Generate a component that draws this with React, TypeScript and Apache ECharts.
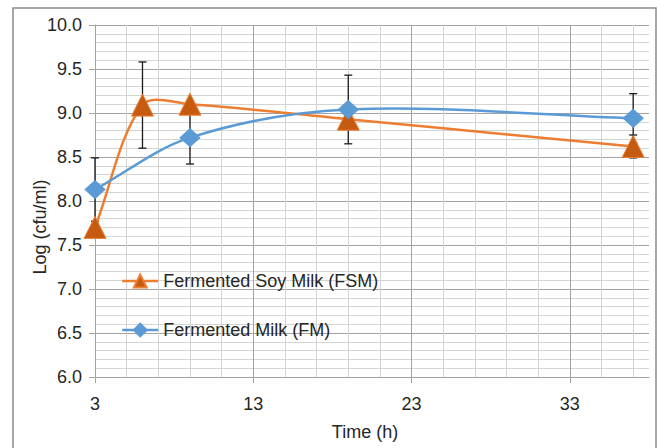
import React, { useEffect, useRef } from "react";
import * as echarts from "echarts";

const fsmTimes = [3, 6, 9, 19, 37];
const fsmValues = [7.7, 9.09, 9.1, 8.93, 8.62];
const fsmErrors = [0, 0.49, 0, 0.1, 0.13];

const fmTimes = [3, 9, 19, 37];
const fmValues = [8.13, 8.72, 9.04, 8.94];
const fmErrors = [0.36, 0.3, 0.39, 0.28];

const xTickLabels = [3, 13, 23, 33];
const FONT = "Liberation Sans, Arial, sans-serif";
const FSM_NAME = "Fermented Soy Milk (FSM)";
const FM_NAME = "Fermented Milk (FM)";
const FSM_LINE = "#ed7d31";
const FM_LINE = "#5b9bd5";

export default function App() {
  const ref = useRef<HTMLDivElement>(null);
  useEffect(() => {
    document.body.style.margin = "0";
    const chart = echarts.init(ref.current!, null, { renderer: "svg" });
    const major = "#a3a3a3";
    const minor = "#d4d4d4";
    const minorColors: string[] = [];
    for (let t = 3; t <= 37; t += 2) minorColors.push((t - 3) % 10 === 0 ? "rgba(0,0,0,0)" : minor);
    minorColors.push("rgba(0,0,0,0)");

    const errData = (times: number[], vals: number[], errs: number[]) =>
      times
        .map((t, i) => [t, vals[i] - errs[i], vals[i] + errs[i]])
        .filter((_, i) => errs[i] > 0);

    const renderErr = (params: any, api: any) => {
      const x = api.value(0);
      const lo = api.value(1);
      const hi = api.value(2);
      const top = api.coord([x, hi]);
      const bot = api.coord([x, lo]);
      const w = 4;
      const st = { stroke: "#1a1a1a", lineWidth: 1.3 };
      return {
        type: "group",
        children: [
          { type: "line", shape: { x1: top[0], y1: top[1], x2: bot[0], y2: bot[1] }, style: st },
          { type: "line", shape: { x1: top[0] - w, y1: top[1], x2: top[0] + w, y2: top[1] }, style: st },
          { type: "line", shape: { x1: bot[0] - w, y1: bot[1], x2: bot[0] + w, y2: bot[1] }, style: st },
        ],
      };
    };

    const dist = (a: number[], b: number[]) => Math.hypot(a[0] - b[0], a[1] - b[1]);

    // Excel-like smoothed line (non-uniform Catmull-Rom bezier segments through the data points)
    const makeCurve = (times: number[], vals: number[], color: string) => (params: any, api: any) => {
      const i = params.dataIndex;
      const n = times.length;
      if (i >= n - 1) return { type: "group", children: [] };
      const pts = times.map((t, k) => api.coord([t, vals[k]]));
      const p0 = pts[Math.max(i - 1, 0)];
      const p1 = pts[i];
      const p2 = pts[i + 1];
      const p3 = pts[Math.min(i + 2, n - 1)];
      const d01 = dist(p0, p1);
      const d12 = dist(p1, p2);
      const d23 = dist(p2, p3);
      const r1 = d12 / (d01 + d12) / 3;
      const r2 = d12 / (d12 + d23) / 3;
      return {
        type: "bezierCurve",
        shape: {
          x1: p1[0],
          y1: p1[1],
          x2: p2[0],
          y2: p2[1],
          cpx1: p1[0] + (p2[0] - p0[0]) * r1,
          cpy1: p1[1] + (p2[1] - p0[1]) * r1,
          cpx2: p2[0] - (p3[0] - p1[0]) * r2,
          cpy2: p2[1] - (p3[1] - p1[1]) * r2,
        },
        style: { stroke: color, lineWidth: 2.5, fill: "none" },
      };
    };

    chart.setOption({
      animation: false,
      textStyle: { fontFamily: FONT },
      grid: { left: 95, right: 10, top: 25, bottom: 71 },
      legend: {
        orient: "vertical",
        left: 121,
        top: 272,
        padding: 0,
        itemWidth: 36,
        itemHeight: 16,
        itemGap: 31,
        textStyle: { fontSize: 18, color: "#262626", fontFamily: FONT },
        data: [
          { name: FSM_NAME, lineStyle: { color: FSM_LINE, width: 2.5, opacity: 1 } },
          { name: FM_NAME, lineStyle: { color: FM_LINE, width: 2.5, opacity: 1 } },
        ],
      },
      xAxis: [
        {
          type: "value",
          min: 3,
          max: 38,
          interval: 10,
          axisLine: { show: true, lineStyle: { color: major, width: 1 } },
          axisTick: { show: true, length: 6, lineStyle: { color: major }, customValues: xTickLabels },
          axisLabel: {
            fontSize: 18,
            color: "#262626",
            margin: 18,
            customValues: xTickLabels,
            formatter: (v: number) => (xTickLabels.includes(v) ? String(v) : ""),
          },
          splitLine: { show: true, lineStyle: { color: [major, major, major, major, "rgba(0,0,0,0)"], width: 1 } },
          name: "Time (h)",
          nameLocation: "middle",
          nameGap: 46,
          nameTextStyle: { fontSize: 18, color: "#262626", padding: [0, 14, 0, 0] },
        },
        {
          type: "value",
          min: 3,
          max: 38,
          interval: 2,
          position: "top",
          axisLine: { show: false },
          axisTick: { show: false },
          axisLabel: { show: false },
          splitLine: { show: true, lineStyle: { color: minorColors, width: 1 } },
        },
      ],
      yAxis: {
        type: "value",
        min: 6,
        max: 10,
        interval: 0.5,
        axisLine: { show: true, lineStyle: { color: major } },
        axisTick: { show: true, length: 6, lineStyle: { color: major } },
        axisLabel: { fontSize: 18, color: "#262626", margin: 13, formatter: (v: number) => v.toFixed(1) },
        splitLine: { show: true, lineStyle: { color: major, width: 1 } },
        minorTick: { show: false, splitNumber: 5 },
        minorSplitLine: { show: true, lineStyle: { color: minor, width: 1 } },
      },
      graphic: [
        {
          type: "rect",
          shape: { x: 13, y: 8, width: 643, height: 460 },
          style: { fill: "none", stroke: "#8a8a8a", lineWidth: 1.5 },
          z: 0,
        },
        {
          type: "text",
          x: 40,
          y: 227,
          rotation: Math.PI / 2,
          style: {
            text: "Log (cfu/ml)",
            font: `18px ${FONT}`,
            fill: "#262626",
            align: "center",
            verticalAlign: "middle",
          },
        },
      ],
      series: [
        {
          type: "custom",
          xAxisIndex: 0,
          renderItem: renderErr,
          encode: { x: 0, y: [1, 2] },
          data: errData(fsmTimes, fsmValues, fsmErrors),
          z: 1,
          silent: true,
        },
        {
          type: "custom",
          xAxisIndex: 0,
          renderItem: renderErr,
          encode: { x: 0, y: [1, 2] },
          data: errData(fmTimes, fmValues, fmErrors),
          z: 1,
          silent: true,
        },
        {
          type: "custom",
          xAxisIndex: 0,
          renderItem: makeCurve(fsmTimes, fsmValues, FSM_LINE),
          encode: { x: 0, y: 1 },
          data: fsmTimes.map((t, i) => [t, fsmValues[i]]),
          z: 2,
          silent: true,
        },
        {
          type: "custom",
          xAxisIndex: 0,
          renderItem: makeCurve(fmTimes, fmValues, FM_LINE),
          encode: { x: 0, y: 1 },
          data: fmTimes.map((t, i) => [t, fmValues[i]]),
          z: 2,
          silent: true,
        },
        {
          name: FSM_NAME,
          type: "line",
          xAxisIndex: 0,
          data: fsmTimes.map((t, i) => [t, fsmValues[i]]),
          symbol: "triangle",
          symbolSize: [22, 22],
          lineStyle: { color: FSM_LINE, width: 2.5, opacity: 0 },
          itemStyle: { color: "#c55a11", borderColor: FSM_LINE, borderWidth: 1 },
          z: 3,
        },
        {
          name: FM_NAME,
          type: "line",
          xAxisIndex: 0,
          data: fmTimes.map((t, i) => [t, fmValues[i]]),
          symbol: "diamond",
          symbolSize: [20, 18],
          lineStyle: { color: FM_LINE, width: 2.5, opacity: 0 },
          itemStyle: { color: FM_LINE, borderColor: FM_LINE, borderWidth: 1 },
          z: 4,
        },
      ],
    });
    return () => chart.dispose();
  }, []);
  return <div ref={ref} style={{ width: 659, height: 448 }} />;
}
